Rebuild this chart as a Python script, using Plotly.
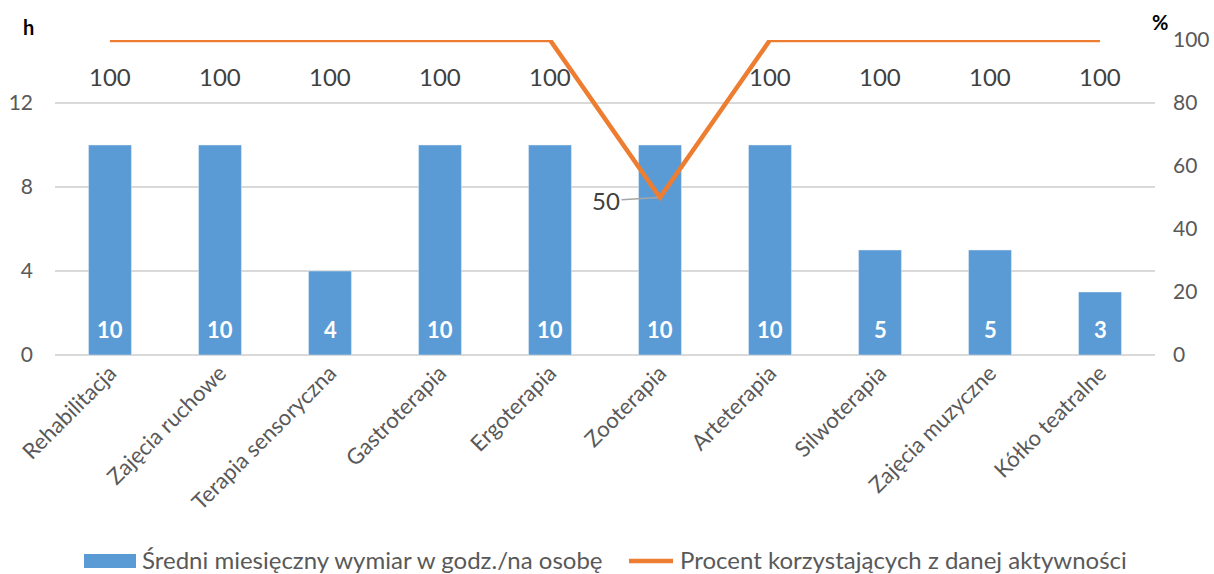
import plotly.graph_objects as go

categories = ["Rehabilitacja", "Zajęcia ruchowe", "Terapia sensoryczna", "Gastroterapia",
              "Ergoterapia", "Zooterapia", "Arteterapia", "Silwoterapia",
              "Zajęcia muzyczne", "Kółko teatralne"]
hours = [10, 10, 4, 10, 10, 10, 10, 5, 5, 3]
percent = [100, 100, 100, 100, 100, 50, 100, 100, 100, 100]

bar_name = "Średni miesięczny wymiar w godz./na osobę"
line_name = "Procent korzystających z danej aktywności"

FONT = "Lato"
GREY = "#595959"
BLUE = "#5B9BD5"
ORANGE = "#ED7D31"

fig = go.Figure()
fig.add_trace(go.Bar(x=categories, y=hours, name=bar_name, marker_color=BLUE,
                     width=0.39, showlegend=False, hoverinfo="skip"))
fig.add_trace(go.Scatter(x=categories, y=percent, name=line_name, yaxis="y2",
                         mode="lines", line=dict(color=ORANGE, width=4.5),
                         showlegend=False, cliponaxis=False))

annotations = []
# value labels inside the bars
for c, v in zip(categories, hours):
    annotations.append(dict(x=c, y=0, xref="x", yref="y", text=f"<b>{v}</b>",
                            showarrow=False, yshift=26,
                            font=dict(family=FONT, size=22, color="white")))
# value labels for the line
for c, p in zip(categories, percent):
    if p == 100:
        annotations.append(dict(x=c, y=p, xref="x", yref="y2", text=str(p),
                                showarrow=False, yshift=-36,
                                font=dict(family=FONT, size=24, color="#404040")))
    else:
        annotations.append(dict(x=c, y=p, xref="x", yref="y2", text=str(p),
                                showarrow=True, arrowhead=0, arrowwidth=1.5,
                                arrowcolor="#A6A6A6", ax=-54, ay=3, standoff=2,
                                font=dict(family=FONT, size=24, color="#404040")))
# axis unit titles
annotations.append(dict(x=28, y=27, xref="paper", yref="paper", text="<b>h</b>",
                        showarrow=False, font=dict(family=FONT, size=20, color="black")))
annotations.append(dict(x=1160, y=22, xref="paper", yref="paper", text="<b>%</b>",
                        showarrow=False, font=dict(family=FONT, size=20, color="black")))

# legend drawn by hand: wide blue swatch and orange line
shapes = [
    dict(type="rect", xref="paper", yref="paper", x0=84, x1=136, y0=554, y1=568,
         fillcolor=BLUE, line=dict(width=0)),
    dict(type="line", xref="paper", yref="paper", x0=629, x1=673, y0=561, y1=561,
         line=dict(color=ORANGE, width=4.5)),
]
annotations.append(dict(x=140, y=559, xref="paper", yref="paper", text=bar_name,
                        showarrow=False, xanchor="left",
                        font=dict(family=FONT, size=24, color=GREY)))
annotations.append(dict(x=678, y=559, xref="paper", yref="paper", text=line_name,
                        showarrow=False, xanchor="left",
                        font=dict(family=FONT, size=24, color=GREY)))

# convert pixel positions in paper coords to fractions
W, H = 1214, 574
L, R, T, B = 55, 59, 40, 219
pw, ph = W - L - R, H - T - B
for a in annotations:
    if a["xref"] == "paper":
        a["x"] = (a["x"] - L) / pw
        a["y"] = (H - B - a["y"]) / ph
        a["yanchor"] = "middle"
        a.setdefault("xanchor", "center")
for s in shapes:
    s["x0"] = (s["x0"] - L) / pw
    s["x1"] = (s["x1"] - L) / pw
    s["y0"] = (H - B - s["y0"]) / ph
    s["y1"] = (H - B - s["y1"]) / ph

fig.update_layout(
    width=W, height=H,
    margin=dict(l=L, r=R, t=T, b=B, autoexpand=False),
    plot_bgcolor="white", paper_bgcolor="white",
    font=dict(family=FONT, size=22, color=GREY),
    xaxis=dict(tickangle=-45, showgrid=False, showline=False, ticks="",
               automargin=False, tickfont=dict(size=22, color=GREY)),
    yaxis=dict(range=[0, 15], tickvals=[0, 4, 8, 12], showgrid=True,
               gridcolor="#D9D9D9", gridwidth=1.5, zeroline=True,
               zerolinecolor="#D9D9D9", zerolinewidth=1.5, showline=False,
               automargin=False, ticks="", ticklabelstandoff=21,
               tickfont=dict(size=21, color=GREY)),
    yaxis2=dict(range=[0, 100], dtick=20, overlaying="y", side="right",
                showgrid=False, zeroline=False, showline=False, ticks="",
                automargin=False, ticklabelstandoff=17,
                tickfont=dict(size=21, color=GREY)),
    annotations=annotations,
    shapes=shapes,
    bargap=0.6,
)

fig.write_html("out.html")
